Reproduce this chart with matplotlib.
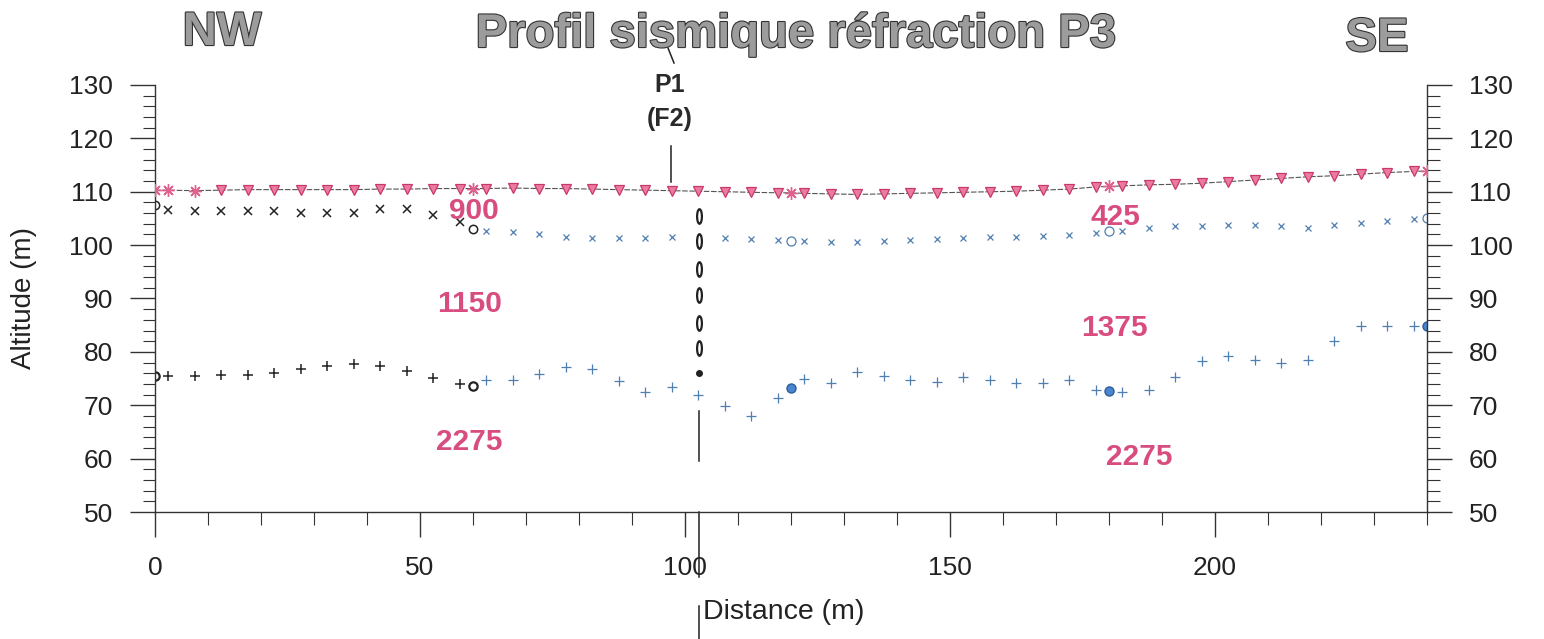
import matplotlib
matplotlib.use("Agg")
import matplotlib.pyplot as plt
import matplotlib.patheffects as pe
from matplotlib.markers import MarkerStyle
from matplotlib.ticker import MultipleLocator
from matplotlib.transforms import Affine2D, blended_transform_factory

plt.rcParams['font.family'] = ['Liberation Sans', 'DejaVu Sans']

# surface: geophones (triangles) and shot points (stars)
topo_x = [0, 2.5, 7.5, 12.5, 17.5, 22.5, 27.5, 32.5, 37.5, 42.5, 47.5, 52.5, 57.5, 60,
          62.5, 67.5, 72.5, 77.5, 82.5, 87.5, 92.5, 97.5, 102.5, 107.5, 112.5, 117.5, 120,
          122.5, 127.5, 132.5, 137.5, 142.5, 147.5, 152.5, 157.5, 162.5, 167.5, 172.5, 177.5, 180,
          182.5, 187.5, 192.5, 197.5, 202.5, 207.5, 212.5, 217.5, 222.5, 227.5, 232.5, 237.5, 240]
topo_y = [110.3, 110.3, 110.2, 110.3, 110.4, 110.4, 110.4, 110.4, 110.4, 110.5, 110.5, 110.6, 110.6, 110.6,
          110.6, 110.7, 110.6, 110.6, 110.5, 110.4, 110.3, 110.2, 110.1, 110.0, 109.9, 109.8, 109.8,
          109.7, 109.6, 109.5, 109.6, 109.7, 109.8, 109.9, 110.0, 110.1, 110.3, 110.5, 110.9, 111.0,
          111.1, 111.3, 111.4, 111.6, 111.9, 112.2, 112.5, 112.8, 113.0, 113.3, 113.6, 113.8, 113.9]
shot_x = [0, 2.5, 7.5, 60, 120, 180, 240]

# base of layer 1 (x markers)
l1_black_x = [2.5, 7.5, 12.5, 17.5, 22.5, 27.5, 32.5, 37.5, 42.5, 47.5, 52.5, 57.5]
l1_black_y = [106.6, 106.3, 106.3, 106.3, 106.3, 106.1, 106.0, 106.0, 106.8, 106.8, 105.7, 104.3]
l1_blue_x = [62.5, 67.5, 72.5, 77.5, 82.5, 87.5, 92.5, 97.5,
             107.5, 112.5, 117.5, 122.5, 127.5, 132.5, 137.5, 142.5, 147.5, 152.5, 157.5,
             162.5, 167.5, 172.5, 177.5, 182.5, 187.5, 192.5, 197.5, 202.5, 207.5, 212.5,
             217.5, 222.5, 227.5, 232.5, 237.5]
l1_blue_y = [102.6, 102.5, 102.0, 101.6, 101.4, 101.4, 101.4, 101.5,
             101.4, 101.2, 100.9, 100.8, 100.6, 100.6, 100.7, 101.0, 101.2, 101.4, 101.5,
             101.6, 101.8, 101.9, 102.3, 102.7, 103.3, 103.6, 103.6, 103.8, 103.8, 103.5,
             103.3, 103.8, 104.1, 104.5, 104.9]
l1_black_o_x = [0, 60]
l1_black_o_y = [107.6, 103.1]
l1_blue_o_x = [120, 180, 240]
l1_blue_o_y = [100.8, 102.6, 105.1]

# base of layer 2 (+ markers)
l2_black_x = [2.5, 7.5, 12.5, 17.5, 22.5, 27.5, 32.5, 37.5, 42.5, 47.5, 52.5, 57.5]
l2_black_y = [75.5, 75.5, 75.6, 75.7, 76.0, 76.7, 77.3, 77.7, 77.3, 76.4, 75.1, 73.9]
l2_blue_x = [62.5, 67.5, 72.5, 77.5, 82.5, 87.5, 92.5, 97.5, 102.5, 107.5, 112.5, 117.5,
             122.5, 127.5, 132.5, 137.5, 142.5, 147.5, 152.5, 157.5, 162.5, 167.5, 172.5, 177.5,
             182.5, 187.5, 192.5, 197.5, 202.5, 207.5, 212.5, 217.5, 222.5, 227.5, 232.5, 237.5]
l2_blue_y = [74.7, 74.8, 75.8, 77.2, 76.7, 74.5, 72.4, 73.4, 72.0, 69.8, 68.0, 71.4,
             75.0, 74.2, 76.3, 75.4, 74.8, 74.4, 75.2, 74.7, 74.1, 74.2, 74.7, 72.9,
             72.4, 72.8, 75.3, 78.2, 79.2, 78.4, 77.9, 78.4, 82.1, 84.8, 84.8, 84.8]
l2_black_o_x = [0, 60]
l2_black_o_y = [75.5, 73.6]
l2_blue_o_x = [120, 180, 240]
l2_blue_o_y = [73.3, 72.7, 84.8]

# borehole P1 (F2)
f2_x = 102.7
f2_y = [105.5, 100.8, 95.6, 90.7, 85.5, 80.7]
f2_end = 76.0

# velocities (m/s)
vel_text = ["900", "1150", "2275", "425", "1375", "2275"]
vel_x = [60.2, 59.4, 59.2, 181.3, 181.1, 185.8]
vel_y = [106.3, 89.0, 63.1, 105.3, 84.4, 60.3]

pink = '#d84c80'
blue = '#4f7fb0'
black = '#222222'

fig = plt.figure(figsize=(15.44, 6.39), dpi=100)
ax = fig.add_axes([155 / 1544, 1 - 512 / 639, 1272 / 1544, 427 / 639])

ax.plot(topo_x, topo_y, color='#555555', lw=0.8, ls=(0, (5, 1.5)), zorder=2)
tri = [(x, y) for x, y in zip(topo_x, topo_y) if x not in shot_x]
star = [(x, y) for x, y in zip(topo_x, topo_y) if x in shot_x]
ax.plot([p[0] for p in tri], [p[1] for p in tri], ls='none', marker='v', ms=7.5,
        mfc='#ec7ba2', mec='#c8386c', mew=0.9, zorder=3)
ax.plot([p[0] for p in star], [p[1] for p in star], ls='none', marker=(8, 2, 0), ms=9,
        color='#e0608e', mew=1.0, zorder=3)

ax.plot(l1_black_x, l1_black_y, ls='none', marker='x', ms=5.5, mew=1.1, color=black)
ax.plot(l1_blue_x, l1_blue_y, ls='none', marker='x', ms=4.5, mew=0.9, color=blue)
ax.plot(l1_black_o_x, l1_black_o_y, ls='none', marker='o', ms=6, mew=1.1, mfc='none', mec=black)
ax.plot(l1_blue_o_x, l1_blue_o_y, ls='none', marker='o', ms=6.5, mew=0.9, mfc='none', mec=blue)

ax.plot(l2_black_x, l2_black_y, ls='none', marker='+', ms=7, mew=1.1, color=black)
ax.plot(l2_blue_x, l2_blue_y, ls='none', marker='+', ms=6.5, mew=0.9, color=blue)
ax.plot(l2_black_o_x, l2_black_o_y, ls='none', marker='o', ms=6, mew=1.6, mfc='none', mec=black)
ax.plot(l2_blue_o_x, l2_blue_o_y, ls='none', marker='o', ms=6.5, mew=1.0, mfc='#4a86cf', mec='#2c5d99')

ell = MarkerStyle('o', transform=Affine2D().scale(0.33, 1.0))
ax.plot([f2_x] * len(f2_y), f2_y, ls='none', marker=ell, ms=10.5, mew=1.6, mfc='white', mec=black, zorder=4)
ax.plot([f2_x], [f2_end], ls='none', marker='o', ms=4, color=black, zorder=4)
ax.plot([f2_x, f2_x], [69.0, 59.5], color=black, lw=1.1)
ax.plot([97.4, 97.4], [118.6, 111.9], color=black, lw=1.1)

for t, x, y in zip(vel_text, vel_x, vel_y):
    ax.text(x, y, t, color=pink, fontsize=21.5, fontweight='bold', ha='center', va='center')

ax.set_xlim(0, 240)
ax.set_ylim(50, 130)
ax.set_xticks([0, 50, 100, 150, 200])
ax.xaxis.set_minor_locator(MultipleLocator(10))
ax.set_yticks(range(50, 131, 10))
ax.yaxis.set_minor_locator(MultipleLocator(2))
ax.tick_params(which='both', direction='out', colors='#333333', labelcolor=black,
               labelsize=19, right=True, labelright=True, width=1.0)
ax.tick_params(which='major', length=18)
ax.tick_params(which='minor', length=9, width=0.8)
ax.tick_params(axis='y', pad=12)
ax.tick_params(axis='x', pad=14)
ax.spines['top'].set_visible(False)
for s in ('left', 'right', 'bottom'):
    ax.spines[s].set_color('#333333')
    ax.spines[s].set_linewidth(1.0)

# line of the borehole crossing the distance axis
tr = blended_transform_factory(ax.transData, fig.transFigure)
ax.plot([f2_x, f2_x], [1 - 512 / 639, 1 - 577 / 639], color=black, lw=1.1, transform=tr, clip_on=False)
ax.plot([f2_x, f2_x], [1 - 606 / 639, 0], color=black, lw=1.1, transform=tr, clip_on=False)

fig.text(784 / 1544, 1 - 612 / 639, "Distance (m)", fontsize=20.5, ha='center', va='center', color=black)
fig.text(24 / 1544, 1 - 298 / 639, "Altitude (m)", fontsize=20, ha='center', va='center',
         rotation=90, color=black)

outline = [pe.withStroke(linewidth=1.6, foreground='#333333')]
fig.text(796 / 1544, 1 - 47 / 639, "Profil sismique réfraction P3", fontsize=34, fontweight='bold',
         ha='center', va='baseline', color='#9c9c9c', path_effects=outline)
fig.text(222 / 1544, 1 - 45 / 639, "NW", fontsize=34, fontweight='bold',
         ha='center', va='baseline', color='#9c9c9c', path_effects=outline)
fig.text(1377 / 1544, 1 - 51 / 639, "SE", fontsize=34, fontweight='bold',
         ha='center', va='baseline', color='#9c9c9c', path_effects=outline)

fig.text(670 / 1544, 1 - 85 / 639, "P1", fontsize=18, fontweight='bold', ha='center', va='center', color='#2a2a2a')
fig.text(670 / 1544, 1 - 119 / 639, "(F2)", fontsize=18, fontweight='bold', ha='center', va='center', color='#2a2a2a')
fig.lines.append(plt.Line2D([668 / 1544, 674 / 1544], [1 - 48 / 639, 1 - 63 / 639],
                            transform=fig.transFigure, color=black, lw=1.1))

fig.savefig("out.png", dpi=100)
